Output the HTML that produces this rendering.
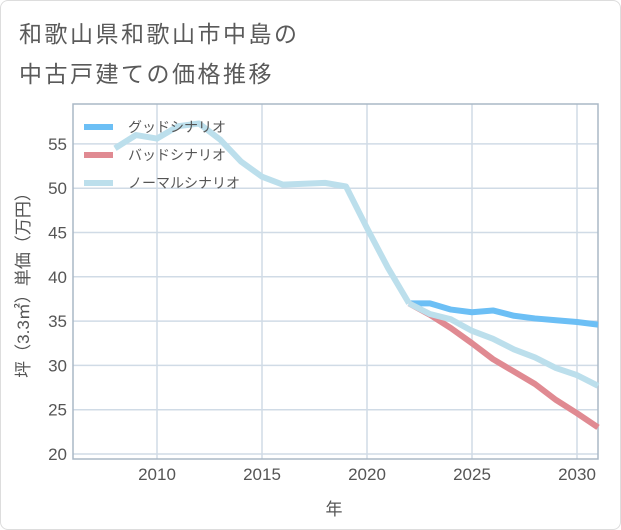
<!DOCTYPE html>
<html><head><meta charset="utf-8"><style>
body{margin:0;background:#fff;}
#wrap{position:relative;width:619px;height:528px;border:1px solid #ddd;border-radius:8px;overflow:hidden;background:#fff;font-family:"Liberation Sans","Noto Sans CJK JP",sans-serif;}
.title{position:absolute;left:18px;font-size:23px;color:#5a5a5a;letter-spacing:2.5px;}
</style></head><body>
<div id="wrap">
<div class="title" style="top:14px">和歌山県和歌山市中島の</div>
<div class="title" style="top:54px">中古戸建ての価格推移</div>
<svg id="chart" width="621" height="530" style="position:absolute;left:0;top:0"></svg>
</div>
<script>
const years=[2008,2009,2010,2011,2012,2013,2014,2015,2016,2017,2018,2019,2020,2021,2022];
const histValues=[54.5,56,55.6,57,57.3,55.5,53,51.3,50.4,50.5,50.6,50.2,45.5,41,37];
const futYears=[2022,2023,2024,2025,2026,2027,2028,2029,2030,2031];
const goodValues=[37,37,36.3,36.0,36.2,35.6,35.3,35.1,34.9,34.6];
const badValues=[37,35.7,34.2,32.5,30.7,29.3,27.9,26.1,24.6,23.0];
const normalValues=[37,35.8,35.2,33.9,33.0,31.8,30.9,29.7,28.9,27.7];
const xTicks=[2010,2015,2020,2025,2030];
const yTicks=[20,25,30,35,40,45,50,55];
const L=72,R=597,T=103,B=458;
const x=y=>156+(y-2010)*21;
const yS=v=>453-(v-20)*8.86;
const svg=document.getElementById('chart');
const NS='http://www.w3.org/2000/svg';
function mk(t,a){const e=document.createElementNS(NS,t);for(const k in a)e.setAttribute(k,a[k]);svg.appendChild(e);return e;}
let g;
for(const t of yTicks){g=mk('line',{x1:L,x2:R,y1:yS(t),y2:yS(t),stroke:'#d0dbe6','stroke-width':1.5});


const tx=mk('text',{x:L-6,y:yS(t)+6,'text-anchor':'end','font-size':17,fill:'#555','font-family':'Liberation Sans, sans-serif'});tx.textContent=t;

}
for(const t of xTicks){g=mk('line',{x1:x(t),x2:x(t),y1:T,y2:B,stroke:'#d0dbe6','stroke-width':1.5});


const tx=mk('text',{x:x(t),y:B+21,'text-anchor':'middle','font-size':17,fill:'#555','font-family':'Liberation Sans, sans-serif'});tx.textContent=t;

}
g=mk('rect',{x:L,y:T,width:R-L,height:B-T,fill:'none',stroke:'#aab8c6','stroke-width':1.5});


function line(xs,vs,c,name){const p=mk('polyline',{points:xs.map((yr,i)=>x(yr)+','+yS(vs[i])).join(' '),fill:'none',stroke:c,'stroke-width':6,'stroke-linejoin':'round'});

}
line(futYears,goodValues,'#6cbff5','good-scenario-line');
line(futYears,badValues,'#e08a92','bad-scenario-line');
line(years,histValues,'#bcdfec','normal-history-line');
line(futYears,normalValues,'#bcdfec','normal-scenario-line');
const leg=[['グッドシナリオ','#6cbff5',126],['バッドシナリオ','#e08a92',154],['ノーマルシナリオ','#bcdfec',182]];
for(const [n,c,yy] of leg){g=mk('line',{x1:83,x2:112,y1:yy,y2:yy,stroke:c,'stroke-width':6});


const tx=mk('text',{x:127,y:yy+5,'font-size':14,fill:'#555','font-family':'Liberation Sans, Noto Sans CJK JP, sans-serif'});tx.textContent=n;

}
const yt=mk('text',{x:0,y:0,transform:'translate(28,280) rotate(-90)','text-anchor':'middle','font-size':17,fill:'#555','font-family':'Liberation Sans, Noto Sans CJK JP, sans-serif'});yt.textContent='坪（3.3㎡）単価（万円）';


const xt=mk('text',{x:333,y:514,'text-anchor':'middle','font-size':17,fill:'#555','font-family':'Liberation Sans, Noto Sans CJK JP, sans-serif'});xt.textContent='年';


</script>
</body></html>
